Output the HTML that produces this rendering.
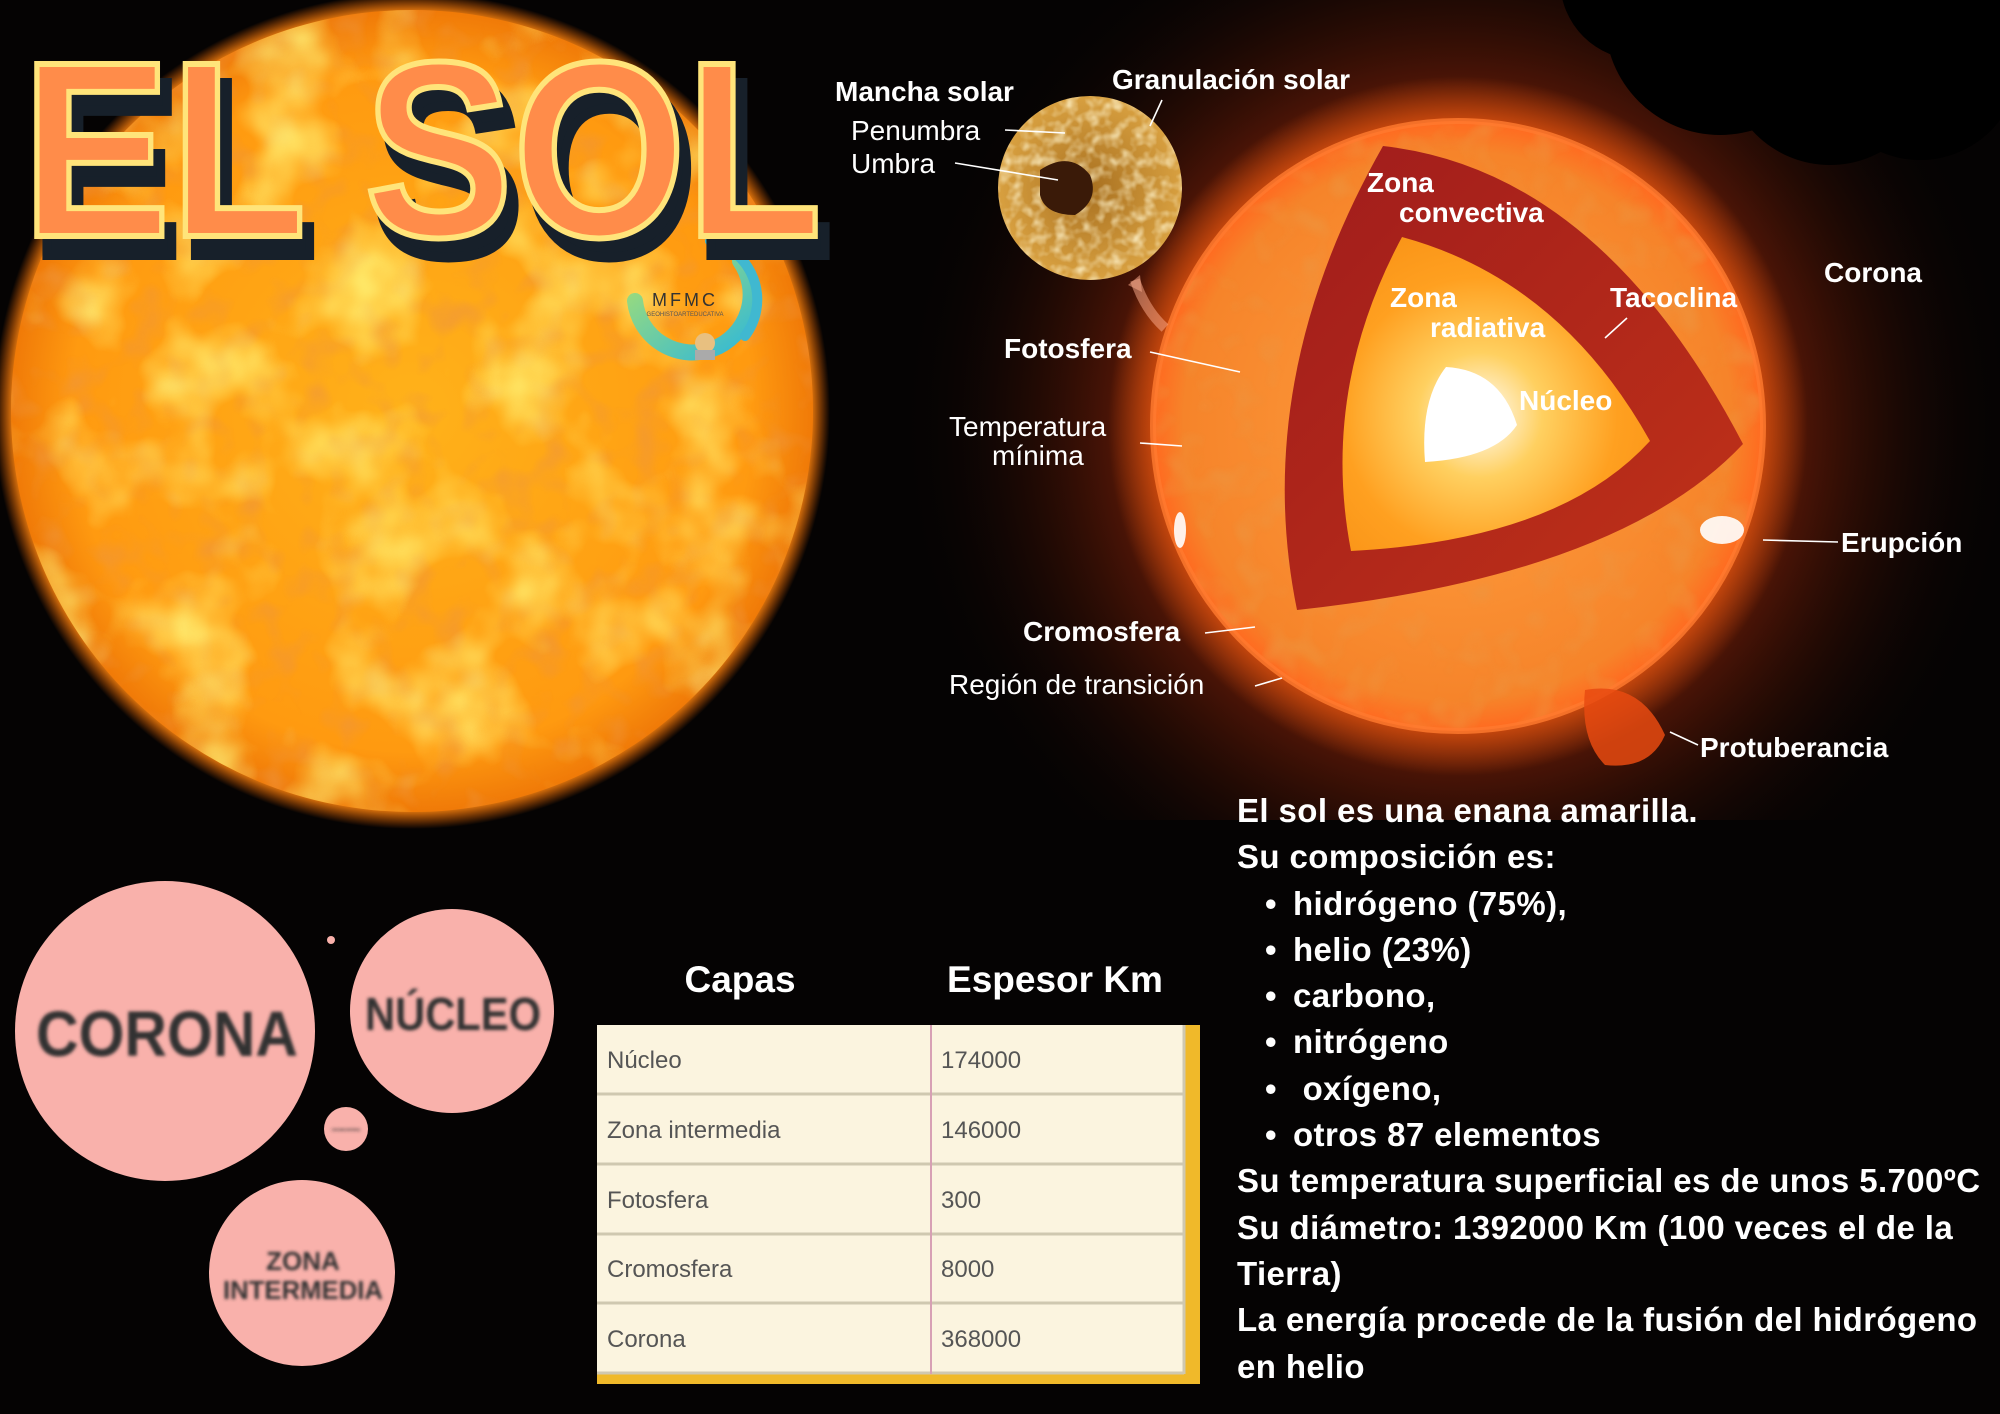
<!DOCTYPE html>
<html><head><meta charset="utf-8"><style>
html,body{margin:0;padding:0;background:#050303;}
body{width:2000px;height:1414px;overflow:hidden;position:relative;font-family:"Liberation Sans",sans-serif;}
svg{position:absolute;left:0;top:0;}
.info{position:absolute;left:1237px;top:788px;color:#fff;font-weight:bold;font-size:33px;letter-spacing:0.4px;line-height:46.3px;white-space:nowrap;}
.info .b{padding-left:28px;}
.info .b:before{content:"•";display:inline-block;width:28px;}
</style></head><body>
<svg width="2000" height="1414" viewBox="0 0 2000 1414">
<defs>
<radialGradient id="glow" cx="1458" cy="426" r="560" gradientUnits="userSpaceOnUse">
<stop offset="0.5" stop-color="#8a2a08"/><stop offset="0.62" stop-color="#4a1406"/><stop offset="1" stop-color="#050303" stop-opacity="0"/>
</radialGradient>
<radialGradient id="halo" cx="1458" cy="426" r="350" gradientUnits="userSpaceOnUse">
<stop offset="0.85" stop-color="#ff6010" stop-opacity="0.7"/><stop offset="1" stop-color="#ff6010" stop-opacity="0"/>
</radialGradient>
<radialGradient id="bigsun" cx="0.5" cy="0.5" r="0.5">
<stop offset="0" stop-color="#ffb21a"/><stop offset="0.85" stop-color="#ff9a10"/><stop offset="1" stop-color="#f07a08"/>
</radialGradient>
<radialGradient id="sunglow" cx="412" cy="411" r="418" gradientUnits="userSpaceOnUse">
<stop offset="0.95" stop-color="#ff8a10"/><stop offset="1" stop-color="#ff6a00" stop-opacity="0"/>
</radialGradient>
<filter id="tex" x="0" y="0" width="100%" height="100%">
<feTurbulence type="fractalNoise" baseFrequency="0.012" numOctaves="3" seed="4"/>
<feColorMatrix type="matrix" values="0 0 0 0 1  0 0 0 0 0.93  0 0 0 0 0.2  2.2 0 0 0 -1.0"/>
</filter>
<filter id="tex2" x="0" y="0" width="100%" height="100%">
<feTurbulence type="fractalNoise" baseFrequency="0.03" numOctaves="2" seed="9"/>
<feColorMatrix type="matrix" values="0 0 0 0 0.85  0 0 0 0 0.3  0 0 0 0 0.05  2.5 0 0 0 -1.2"/>
</filter>
<filter id="gran" x="0" y="0" width="100%" height="100%">
<feTurbulence type="fractalNoise" baseFrequency="0.09" numOctaves="2" seed="2"/>
<feColorMatrix type="matrix" values="0 0 0 0 1  0 0 0 0 0.9  0 0 0 0 0.6  2 0 0 0 -0.8"/>
</filter>
<radialGradient id="sphere" cx="1458" cy="426" r="305" gradientUnits="userSpaceOnUse">
<stop offset="0" stop-color="#ffa040"/><stop offset="0.9" stop-color="#f6842a"/><stop offset="1" stop-color="#ff6a20"/>
</radialGradient>
<radialGradient id="rad" cx="1480" cy="415" r="250" gradientUnits="userSpaceOnUse">
<stop offset="0" stop-color="#ffffff"/><stop offset="0.25" stop-color="#ffd060"/><stop offset="0.55" stop-color="#ffa020"/><stop offset="1" stop-color="#f58a10"/>
</radialGradient>
<linearGradient id="conv" x1="0" y1="0" x2="1" y2="1">
<stop offset="0" stop-color="#a01c1c"/><stop offset="1" stop-color="#c03218"/>
</linearGradient>
<radialGradient id="spot" cx="1090" cy="188" r="92" gradientUnits="userSpaceOnUse">
<stop offset="0" stop-color="#a87020"/><stop offset="1" stop-color="#d8a040"/>
</radialGradient>
<linearGradient id="logo" x1="0" y1="0" x2="1" y2="1">
<stop offset="0" stop-color="#a8e070"/><stop offset="1" stop-color="#30b8d8"/>
</linearGradient>
<clipPath id="c1"><circle cx="412" cy="411" r="401"/></clipPath>
<clipPath id="c2"><circle cx="1458" cy="426" r="305"/></clipPath>
<clipPath id="c3"><circle cx="1090" cy="188" r="92"/></clipPath>
<filter id="blur2"><feGaussianBlur stdDeviation="1.5"/></filter>
</defs>

<rect x="820" y="0" width="1180" height="820" fill="url(#glow)"/>
<g fill="#000">
<circle cx="1720" cy="20" r="115"/><circle cx="1640" cy="-20" r="80"/><circle cx="1830" cy="60" r="105"/><circle cx="1920" cy="60" r="100"/><circle cx="1990" cy="20" r="80"/>
</g>

<circle cx="412" cy="411" r="418" fill="url(#sunglow)"/>
<circle cx="412" cy="411" r="401" fill="url(#bigsun)"/>
<g clip-path="url(#c1)">
<rect x="0" y="0" width="820" height="820" filter="url(#tex2)" opacity="0.6"/>
<rect x="0" y="0" width="820" height="820" filter="url(#tex)" opacity="0.85"/>
</g>

<g transform="translate(690,316)">
<path d="M-55,-15 A58,58 0 1 0 50,-55" fill="none" stroke="url(#logo)" stroke-width="16" stroke-linecap="round"/>
<path d="M20,-75 A60,60 0 0 1 55,20" fill="none" stroke="#40b8d0" stroke-width="10" stroke-linecap="round"/>
<text x="-5" y="-10" font-size="18" fill="#333" text-anchor="middle" letter-spacing="3">MFMC</text>
<text x="-5" y="0" font-size="6" fill="#555" text-anchor="middle">GEOHISTOARTEDUCATIVA</text>
<circle cx="15" cy="27" r="10" fill="#e8c080"/><rect x="5" y="34" width="20" height="10" fill="#aaa"/>
</g>

<g font-family="'Liberation Sans',sans-serif" font-weight="bold" font-size="250">
<text x="32" y="255" textLength="800" lengthAdjust="spacingAndGlyphs" fill="#17202a" stroke="#17202a" stroke-width="10">EL SOL</text>
<text x="22" y="236" textLength="800" lengthAdjust="spacingAndGlyphs" fill="#ff8c4a" stroke="#ffe47a" stroke-width="6">EL SOL</text>
</g>

<circle cx="1458" cy="426" r="350" fill="url(#halo)"/>
<circle cx="1458" cy="426" r="305" fill="url(#sphere)"/>
<g clip-path="url(#c2)">
<rect x="1150" y="120" width="620" height="620" filter="url(#tex2)" opacity="0.7"/>
</g>
<circle cx="1458" cy="426" r="305" fill="none" stroke="#ff7a30" stroke-width="6" opacity="0.8"/>
<path d="M1383,146 Q1600,170 1743,444 Q1620,575 1297,610 Q1250,380 1383,146 Z" fill="url(#conv)"/>
<path d="M1402,237 Q1560,280 1650,441 Q1560,540 1351,551 Q1320,390 1402,237 Z" fill="url(#rad)"/>
<path d="M1446,367 Q1500,370 1517,425 Q1495,458 1425,462 Q1420,400 1446,367 Z" fill="#fff"/>
<g fill="#fff" opacity="0.9"><ellipse cx="1722" cy="530" rx="22" ry="14"/><ellipse cx="1180" cy="530" rx="6" ry="18"/></g>
<path d="M1585,690 Q1640,680 1665,735 Q1650,770 1605,765 Q1580,740 1585,690 Z" fill="#e84a10" opacity="0.85"/>

<circle cx="1090" cy="188" r="92" fill="url(#spot)"/>
<g clip-path="url(#c3)"><rect x="995" y="94" width="190" height="190" filter="url(#gran)" opacity="0.8"/></g>
<path d="M1040,170 Q1070,150 1090,175 Q1100,200 1075,215 Q1045,215 1040,195 Z" fill="#3a1a08"/>
<path d="M1135,280 Q1145,310 1165,328" fill="none" stroke="#ffb090" stroke-width="10" opacity="0.5"/>
<path d="M1128,285 L1140,275 L1142,292 Z" fill="#ffb090" opacity="0.5"/>

<g stroke="#fff" stroke-width="1.6" fill="none">
<line x1="1005" y1="130" x2="1065" y2="133"/>
<line x1="955" y1="163" x2="1058" y2="180"/>
<line x1="1162" y1="100" x2="1150" y2="126"/>
<line x1="1150" y1="352" x2="1240" y2="372"/>
<line x1="1140" y1="443" x2="1182" y2="446"/>
<line x1="1627" y1="318" x2="1605" y2="338"/>
<line x1="1763" y1="540" x2="1838" y2="542"/>
<line x1="1205" y1="633" x2="1255" y2="627"/>
<line x1="1255" y1="686" x2="1282" y2="678"/>
<line x1="1670" y1="732" x2="1698" y2="745"/>
</g>

<g fill="#fff" font-size="28" font-family="'Liberation Sans',sans-serif">
<text x="835" y="101" font-weight="bold">Mancha solar</text>
<text x="1112" y="89" font-weight="bold">Granulación solar</text>
<text x="851" y="140">Penumbra</text>
<text x="851" y="173">Umbra</text>
<text x="1367" y="192" font-weight="bold">Zona</text>
<text x="1399" y="222" font-weight="bold">convectiva</text>
<text x="1824" y="282" font-weight="bold">Corona</text>
<text x="1390" y="307" font-weight="bold">Zona</text>
<text x="1430" y="337" font-weight="bold">radiativa</text>
<text x="1610" y="307" font-weight="bold">Tacoclina</text>
<text x="1004" y="358" font-weight="bold">Fotosfera</text>
<text x="1519" y="410" font-weight="bold">Núcleo</text>
<text x="949" y="436">Temperatura</text>
<text x="992" y="465">mínima</text>
<text x="1841" y="552" font-weight="bold">Erupción</text>
<text x="1023" y="641" font-weight="bold">Cromosfera</text>
<text x="949" y="694">Región de transición</text>
<text x="1700" y="757" font-weight="bold">Protuberancia</text>
</g>

<g fill="#f9b1ab">
<circle cx="165" cy="1031" r="150"/><circle cx="452" cy="1011" r="102"/><circle cx="346" cy="1129" r="22"/><circle cx="331" cy="940" r="4"/><circle cx="302" cy="1273" r="93"/>
</g>
<g fill="#333" font-weight="bold" font-family="'Liberation Sans',sans-serif" text-anchor="middle" filter="url(#blur2)">
<text x="167" y="1056" font-size="64" textLength="262" lengthAdjust="spacingAndGlyphs">CORONA</text>
<text x="453" y="1030" font-size="46" textLength="176" lengthAdjust="spacingAndGlyphs">NÚCLEO</text>
<text x="303" y="1270" font-size="26">ZONA</text>
<text x="303" y="1299" font-size="26" textLength="160" lengthAdjust="spacingAndGlyphs">INTERMEDIA</text>
<text x="346" y="1131" font-size="4">CROMOSFERA</text>
</g>

<g font-family="'Liberation Sans',sans-serif">
<text x="740" y="992" fill="#fff" font-weight="bold" font-size="37" text-anchor="middle">Capas</text>
<text x="1055" y="992" fill="#fff" font-weight="bold" font-size="37" text-anchor="middle">Espesor Km</text>
<rect x="597" y="1025" width="603" height="359" fill="#f0b92a"/>
<rect x="597" y="1025" width="587" height="349" fill="#fbf4df"/>
<g stroke="#cfc8b0" stroke-width="3">
<line x1="597" y1="1094" x2="1184" y2="1094"/><line x1="597" y1="1164" x2="1184" y2="1164"/><line x1="597" y1="1234" x2="1184" y2="1234"/><line x1="597" y1="1303" x2="1184" y2="1303"/><line x1="597" y1="1373" x2="1184" y2="1373"/>
<line x1="1184" y1="1025" x2="1184" y2="1374"/>
</g>
<line x1="931" y1="1025" x2="931" y2="1374" stroke="#d7a0b4" stroke-width="2"/>
<g fill="#555" font-size="24">
<text x="607" y="1068">Núcleo</text><text x="941" y="1068">174000</text>
<text x="607" y="1138">Zona intermedia</text><text x="941" y="1138">146000</text>
<text x="607" y="1208">Fotosfera</text><text x="941" y="1208">300</text>
<text x="607" y="1277">Cromosfera</text><text x="941" y="1277">8000</text>
<text x="607" y="1347">Corona</text><text x="941" y="1347">368000</text>
</g>
</g>
</svg>

<div class="info">
<div>El sol es una enana amarilla.</div>
<div>Su composición es:</div>
<div class="b">hidrógeno (75%),</div>
<div class="b">helio (23%)</div>
<div class="b">carbono,</div>
<div class="b">nitrógeno</div>
<div class="b">&nbsp;oxígeno,</div>
<div class="b">otros 87 elementos</div>
<div>Su temperatura superficial es de unos 5.700ºC</div>
<div>Su diámetro: 1392000 Km (100 veces el de la</div>
<div>Tierra)</div>
<div>La energía procede de la fusión del hidrógeno</div>
<div>en helio</div>
</div>
</body></html>
